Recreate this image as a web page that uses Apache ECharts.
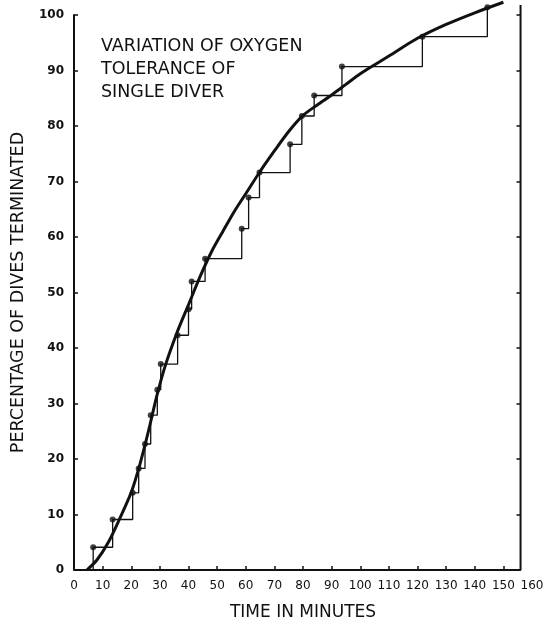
<!DOCTYPE html>
<html>
<head>
<meta charset="utf-8">
<script src="https://cdn.jsdelivr.net/npm/echarts@6/dist/echarts.min.js"></script>
<style>
html,body{margin:0;padding:0;background:#fff;}
#chart{width:558px;height:626px;}
</style>
</head>
<body>
<div id="chart"></div>
<script>
// Observed dives: time (min) and cumulative percentage terminated
var dotTimes = [6.7, 13.5, 20.5, 22.6, 24.8, 26.8, 29.1, 30.3, 36.2, 40.0, 41.1, 45.8, 58.6, 61.0, 64.8, 75.5, 79.6, 83.9, 93.6, 121.7, 144.4];
var dotPercents = [4.1, 9.1, 13.9, 18.3, 22.7, 27.9, 32.5, 37.1, 42.3, 47.0, 52.0, 56.1, 61.5, 67.1, 71.6, 76.7, 81.8, 85.5, 90.7, 96.1, 101.4];
var stepStart = [6.7, 0];

// Fitted smooth curve
var curveTimes = [4.5, 8, 12, 16, 20, 23, 26, 29, 32, 36, 40, 44, 48, 52, 56, 60, 65, 70, 75, 80, 85, 90, 95, 100, 103, 110, 120, 130, 140, 150];
var curvePercents = [0, 1.8, 5, 9.3, 14, 19, 25, 31.5, 37, 42.8, 47.8, 52.8, 57.3, 61.0, 64.6, 67.8, 71.8, 75.5, 79, 81.9, 83.8, 85.6, 87.5, 89.4, 90.4, 92.6, 95.8, 98.3, 100.4, 102.3];

// Frame (bottom and right border)
var frameRight = 156;
var frameTop = 101.8;

// Axis ticks
var xTickValues = [0, 10, 20, 30, 40, 50, 60, 70, 80, 90, 100, 110, 120, 130, 140, 150, 160];
var xInnerTicks = [10, 20, 30, 40, 50, 60, 70, 80, 90, 100, 110, 120, 130, 140, 150];

var titleText = 'VARIATION OF OXYGEN\nTOLERANCE OF\nSINGLE DIVER';
var xName = 'TIME IN MINUTES';
var yName = 'PERCENTAGE OF DIVES TERMINATED';

var dots = dotTimes.map(function (t, i) { return [t, dotPercents[i]]; });
var steps = [stepStart].concat(dots);
var curve = curveTimes.map(function (t, i) { return [t, curvePercents[i]]; });
var frame = [[0, 0], [frameRight, 0], [frameRight, frameTop]];

var font = 'DejaVu Sans';
var chart = echarts.init(document.getElementById('chart'), null, {renderer: 'canvas'});
chart.setOption({
  animation: false,
  backgroundColor: '#fff',
  title: {
    text: titleText,
    left: 96,
    top: 30,
    textStyle: {fontFamily: font, fontSize: 17.5, lineHeight: 23, fontWeight: 'normal', color: '#111'}
  },
  grid: {left: 74, right: 26, top: 15, bottom: 48, containLabel: false},
  xAxis: [{
    type: 'value', min: 0, max: 160, interval: 10,
    name: xName, nameLocation: 'middle', nameGap: 34,
    nameTextStyle: {fontFamily: font, fontSize: 17, color: '#111'},
    axisLine: {show: false},
    axisTick: {show: true, inside: true, length: 4, customValues: xInnerTicks, lineStyle: {color: '#111', width: 1.5}},
    axisLabel: {customValues: xTickValues, fontFamily: font, fontSize: 12, color: '#111', margin: 10},
    splitLine: {show: false}
  }],
  yAxis: [{
    type: 'value', min: 0, max: 100, interval: 10,
    name: yName, nameLocation: 'middle', nameGap: 47, nameRotate: 90,
    nameTextStyle: {fontFamily: font, fontSize: 17.5, color: '#111'},
    axisLine: {show: true, lineStyle: {color: '#111', width: 2}},
    axisTick: {show: true, inside: true, length: 4, lineStyle: {color: '#111', width: 1.5}},
    axisLabel: {fontFamily: font, fontSize: 12, fontWeight: 'bold', color: '#111', margin: 10},
    splitLine: {show: false}
  }, {
    type: 'value', min: 0, max: 100, interval: 10, position: 'right', offset: -11.5,
    axisLine: {show: false},
    axisTick: {show: true, inside: true, length: 4, lineStyle: {color: '#111', width: 1.5}},
    axisLabel: {show: false},
    splitLine: {show: false}
  }],
  series: [{
    name: 'frame', type: 'line', data: frame, symbol: 'none', clip: false,
    lineStyle: {color: '#111', width: 2}, z: 1
  }, {
    name: 'steps', type: 'line', step: 'end', data: steps, symbol: 'none', clip: false,
    lineStyle: {color: '#111', width: 1.3}, z: 2
  }, {
    name: 'dots', type: 'scatter', data: dots, symbol: 'circle', symbolSize: 6, clip: false,
    itemStyle: {color: '#111'}, z: 3
  }, {
    name: 'curve', type: 'line', data: curve, symbol: 'none', smooth: 0.3, clip: false,
    lineStyle: {color: '#111', width: 3}, z: 4
  }]
});
</script>
</body>
</html>
